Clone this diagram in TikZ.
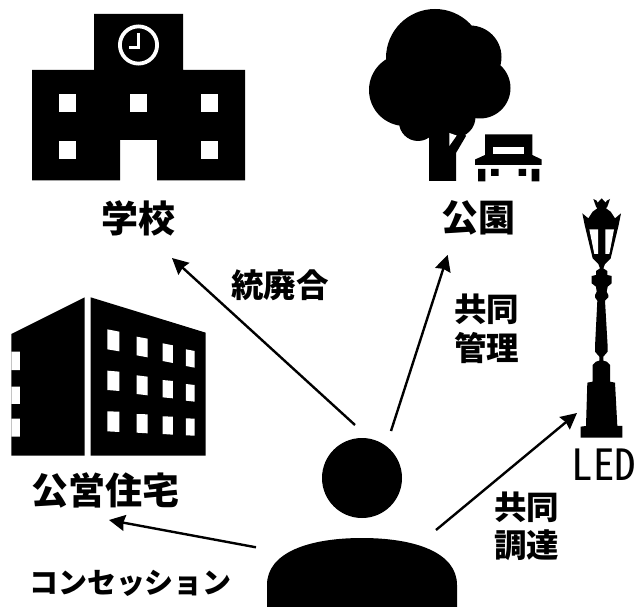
\documentclass[tikz,border=0pt]{standalone}
\usepackage{fontspec}
\usetikzlibrary{arrows.meta}
\setmainfont{Noto Sans CJK JP}
\newfontfamily\halfw[CharacterWidth=Half]{Noto Sans CJK JP}
\tikzset{
  inked/.style={fill=black,draw=none},
  blank/.style={fill=white,draw=none},
  flow/.style={draw=black,line width=2.4pt,-{Stealth[length=16pt,width=16pt,inset=1.5pt]}},
  big/.style={inner sep=0pt,font=\fontsize{37}{37}\selectfont\bfseries},
  mid/.style={inner sep=0pt,font=\fontsize{32.5}{38.5}\selectfont\bfseries,align=center},
  small/.style={inner sep=0pt,font=\fontsize{29}{34}\selectfont\bfseries},
  zoomed/.style={x=0.33333pt,y=-0.33333pt}
}
\begin{document}
\begin{tikzpicture}[x=1pt,y=-1pt]
\useasboundingbox (0,0) rectangle (635,607);
% school
\fill[inked] (94,14) -- (183,14) -- (183,70) -- (245,70) -- (245,180.5) -- (157,180.5) -- (157,140) -- (120,140) -- (120,180.5) -- (32,180.5) -- (32,70) -- (94,70) -- cycle;
\foreach \wx/\wy in {59/94,130/94,201/94,59/141,201/141}
  \fill[blank] (\wx,\wy) rectangle ++(17,18.5);
\draw[white,line width=3.8pt] (138.5,45) circle[radius=18.6];
\draw[white,line width=3.2pt] (138.5,33) -- (138.5,47.5) -- (129,47.5);
% tree
\fill[inked] (435,58) circle[radius=49] (470,57) circle[radius=31.5] (480,88) circle[radius=30.5]
  (405,90) circle[radius=36] (418,122) circle[radius=19] (455,117) circle[radius=20.5] (430,90) circle[radius=35];
\fill[inked] (429,120) -- (429,181) -- (456,181) -- (456,153) -- (466,136) -- (456,120) -- cycle;
\fill[blank] (449.3,133) -- (456.7,135.5) -- (449.3,146) -- cycle;
% bench
\fill[inked] (485,134.3) -- (532.3,134.3) -- (532.3,155) -- (541.7,159.5) -- (541.7,165) -- (475,165) -- (475,159.5) -- (485,155) -- cycle;
\fill[blank] (493.3,146.7) rectangle (524,154.3);
\fill[inked] (478,169) rectangle (485.3,181.5) (531.7,169) rectangle (539.3,181.5) (491,169) rectangle (498.7,176) (518.7,169) rectangle (526,176);
% apartment block
\begin{scope}[shift={(0,280)},zoomed]
\fill[inked] (34,162) -- (254,52) -- (254,527) -- (34,527) -- cycle;
\fill[inked] (272,52) -- (617,158) -- (617,527) -- (272,527) -- cycle;
\fill[blank] (34,215) rectangle (60,270) (34,320) rectangle (60,372) (34,416) rectangle (60,470);
\foreach \pa/\pb/\pc/\pd/\pe/\pf/\pg/\ph in {
 322/148/358/155/358/214/322/208, 410/170/443/176/443/232/410/226, 488/190/519/196/519/249/488/243, 558/208/584/213/584/263/558/258,
 322/272/358/275/358/333/322/330, 410/286/443/290/443/346/410/342, 488/300/519/303/519/355/488/352, 558/312/584/315/584/365/558/362,
 322/394/358/395/358/456/322/454, 410/402/443/403/443/460/410/458, 488/409/519/410/519/464/488/462, 558/415/584/416/584/467/558/466}
  \fill[blank] (\pa,\pb) -- (\pc,\pd) -- (\pe,\pf) -- (\pg,\ph) -- cycle;
\end{scope}
% street lamp
\begin{scope}[shift={(560,190)},zoomed]
\fill[inked] (100,27) -- (110,32) -- (113,38) -- (125,25) -- (137,38) -- (140,32) -- (150,27) -- (142,50) -- (138,55)
  -- (152,65) -- (165,85) -- (183,70) -- (176,105) -- (152,205) -- (135,222) -- (130,235) -- (142,243) -- (142,255) -- (155,258) -- (155,280) -- (143,290) -- (140,305) -- (145,315) -- (145,322) -- (135,332)
  -- (143,470) -- (143,485) -- (130,500) -- (130,512) -- (140,515) -- (150,525) -- (150,575) -- (165,578) -- (172,708) -- (187,708) -- (187,743)
  -- (62,743) -- (62,710) -- (78,708) -- (82,578) -- (98,575) -- (98,525) -- (108,515) -- (118,512) -- (118,500) -- (105,485) -- (105,470)
  -- (112,332) -- (105,322) -- (105,315) -- (110,305) -- (108,290) -- (95,280) -- (95,258) -- (108,255) -- (108,243) -- (120,235) -- (115,222) -- (98,205) -- (74,105) -- (67,70) -- (85,85) -- (98,65) -- (112,55) -- (108,50) -- cycle;
\fill[blank] (88,118) -- (114,118) -- (114,192) -- (103,192) -- cycle;
\fill[blank] (136,118) -- (162,118) -- (148,192) -- (136,192) -- cycle;
\end{scope}
% person
\fill[inked] (362,478) circle[radius=40];
\fill[inked] (267,607) -- (267,585) .. controls (267,552) and (310,538) .. (362,538) .. controls (414,538) and (457,552) .. (457,585) -- (457,607) -- cycle;
% labels
\node[big] (school) at (138,218) {学校};
\node[big] (park) at (478.5,218) {公園};
\node[big] (housing) at (105,490) {公営住宅};
\node[inner sep=0pt,font=\fontsize{43}{43}\selectfont\halfw] (led) at (604,465) {LED};
\node[mid] (merge) at (280,285) {統廃合};
\node[mid] (manage) at (486.7,329) {共同\\管理};
\node[mid] (procure) at (526.7,526.5) {共同\\調達};
\node[small] (conc) at (130.5,583) {コンセッション};
% connectors
\coordinate (a1) at (355,425); \coordinate (b1) at (172,258);
\coordinate (a2) at (391,431); \coordinate (b2) at (447.7,255);
\coordinate (a3) at (436,530); \coordinate (b3) at (577,413);
\coordinate (a4) at (256,547.3); \coordinate (b4) at (109,520);
\draw[flow] (a1) -- (b1);
\draw[flow] (a2) -- (b2);
\draw[flow] (a3) -- (b3);
\draw[flow] (a4) -- (b4);
\end{tikzpicture}
\end{document}
